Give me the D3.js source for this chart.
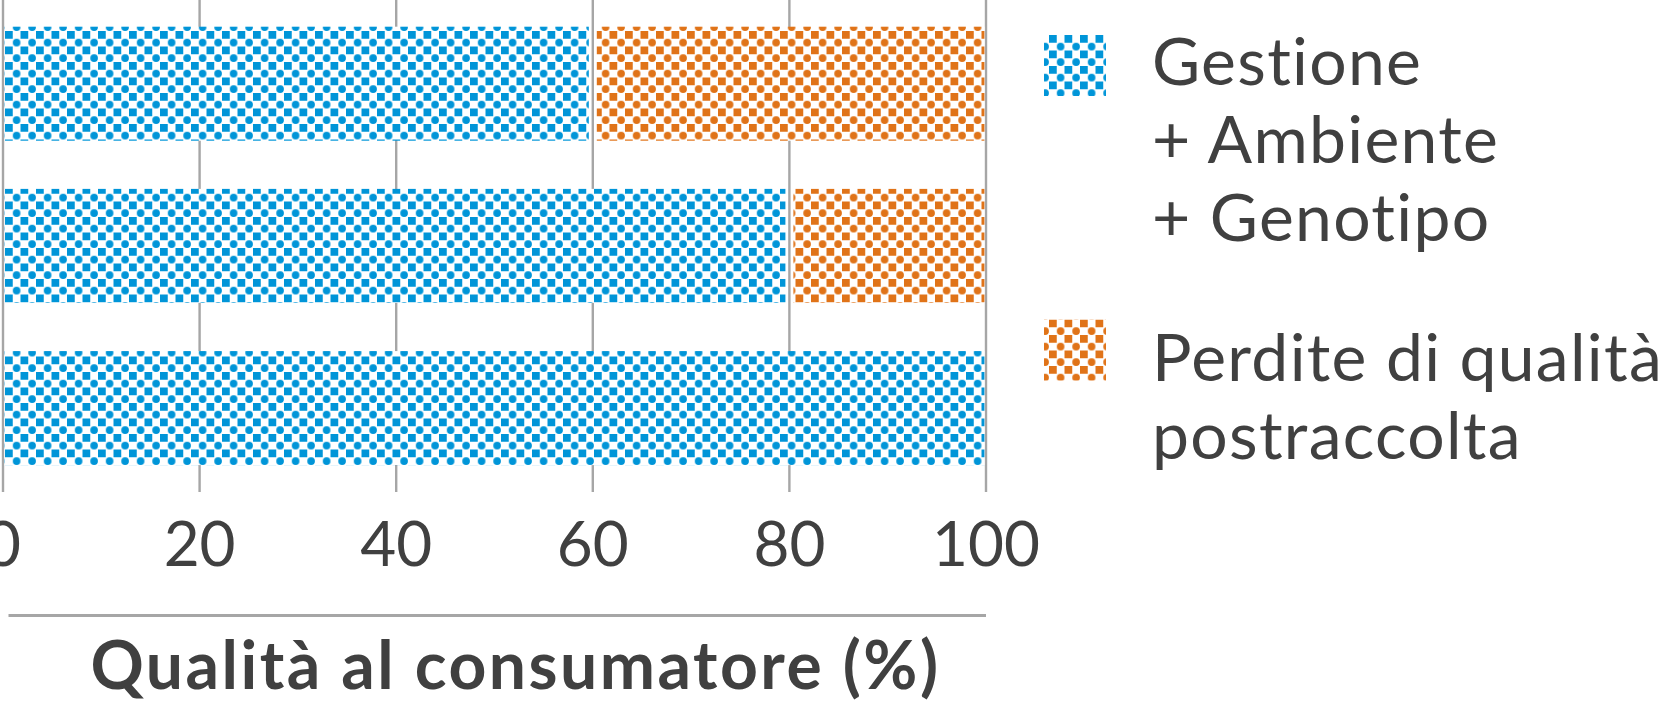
<!DOCTYPE html>
<html>
<head>
<meta charset="utf-8">
<script src="https://cdn.jsdelivr.net/npm/d3@7"></script>
<style>
  html, body { margin: 0; padding: 0; background: #fff; }
  svg { display: block; }
  text { font-family: Lato, "Noto Sans", sans-serif; fill: #404040; font-variant-ligatures: none; font-feature-settings: "liga" 0, "clig" 0; }
</style>
</head>
<body>
<div class="vis-bars"></div>
<script>
// data
const categories = ["A", "B", "C"]
const gestione = [60, 80, 100]
const perdite = [40, 20, 0]
const ticks = [0, 20, 40, 60, 80, 100]
const seriesNames = ["gestione", "perdite"]
const legendLabels = [
    ["Gestione", "+ Ambiente", "+ Genotipo"],
    ["Perdite di qualità", "postraccolta"]
]
const axisTitle = "Qualità al consumatore (%)"

const width = 1670
const height = 707
const colors = { gestione: "#0095d8", perdite: "#e07318" }

const rows = categories.map((c, i) => ({ cat: c, gestione: gestione[i], perdite: perdite[i] }))
const stacked = d3.stack().keys(seriesNames)(rows)

const x = d3.scaleLinear().domain([0, 100]).range([3, 986])
const y = d3.scaleBand()
    .domain(categories)
    .range([26.7, 465.1])
    .paddingInner(0.297)
    .paddingOuter(0)

const svg = d3.select('.vis-bars')
    .append('svg')
    .attr('width', width)
    .attr('height', height)

// checker patterns: square + offset dot
const cell = 15.5
const defs = svg.append("defs")
seriesNames.forEach(k => {
    const p = defs.append("pattern")
        .attr("id", "pat-" + k)
        .attr("patternUnits", "userSpaceOnUse")
        .attr("x", 5)
        .attr("y", 0)
        .attr("width", cell)
        .attr("height", cell)
    p.append("rect").attr("width", cell).attr("height", cell).attr("fill", "#fff")
    p.append("rect").attr("width", cell / 2).attr("height", cell / 2).attr("fill", colors[k])
    p.append("circle").attr("cx", cell * 0.75).attr("cy", cell * 0.75).attr("r", 3.8).attr("fill", colors[k])
})

// gridlines
svg.append("g")
    .selectAll("line")
    .data(ticks)
    .join("line")
    .attr("x1", d => x(d))
    .attr("x2", d => x(d))
    .attr("y1", 0)
    .attr("y2", 492)
    .attr("stroke", "#a6a6a6")
    .attr("stroke-width", 2.4)

// bars
const inset = (v, outer) => (v === 0 || v === 100) ? outer : 4
svg.append("g")
    .selectAll("g")
    .data(stacked)
    .join("g")
    .attr("fill", d => `url(#pat-${d.key})`)
    .selectAll("rect")
    .data(d => d.filter(s => s[1] - s[0] > 0))
    .join("rect")
    .attr("x", d => x(d[0]) + inset(d[0], 1.6))
    .attr("y", d => y(d.data.cat))
    .attr("width", d => x(d[1]) - inset(d[1], 1.6) - x(d[0]) - inset(d[0], 1.6))
    .attr("height", y.bandwidth())

// tick labels
svg.append("g")
    .selectAll("text")
    .data(ticks)
    .join("text")
    .attr("x", d => x(d))
    .attr("y", 566)
    .attr("text-anchor", "middle")
    .style("font-size", "62px")
    .text(d => d)

// rule above the title
svg.append("line")
    .attr("x1", 8.5)
    .attr("x2", x(100))
    .attr("y1", 615.5)
    .attr("y2", 615.5)
    .attr("stroke", "#a6a6a6")
    .attr("stroke-width", 3)

svg.append("text")
    .attr("x", 515.5)
    .attr("y", 689)
    .attr("text-anchor", "middle")
    .style("font-size", "66px")
    .style("font-weight", 700)
    .style("letter-spacing", "2.5px")
    .text(axisTitle)

// legend
const legendTop = [35, 319.5]
const legendTextY = [50, 61]
const legend = svg.append("g")
    .selectAll("g")
    .data(seriesNames)
    .join("g")
    .attr("transform", (d, i) => `translate(1044,${legendTop[i]})`)

legend.append("rect")
    .attr("width", 62)
    .attr("height", 61)
    .attr("fill", d => `url(#pat-${d})`)

legend.append("text")
    .attr("x", 108)
    .style("font-size", "66px")
    .style("letter-spacing", "1.3px")
    .selectAll("tspan")
    .data((d, i) => legendLabels[i].map(t => ({ t, base: legendTextY[i] })))
    .join("tspan")
    .attr("x", 108)
    .attr("y", (d, i) => d.base + i * 78)
    .text(d => d.t)
</script>
</body>
</html>
